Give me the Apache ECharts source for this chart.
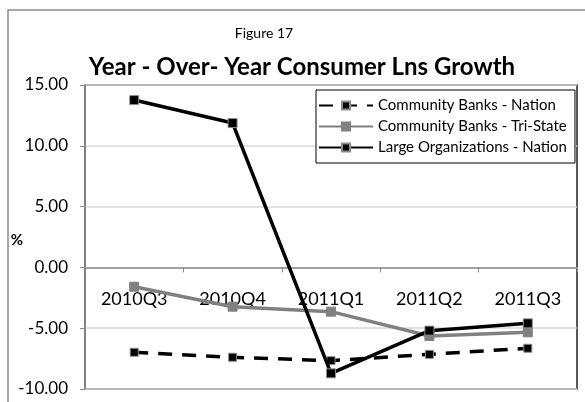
<!DOCTYPE html>
<html>
<head>
<meta charset="utf-8">
<script src="https://cdn.jsdelivr.net/npm/echarts@6/dist/echarts.min.js"></script>
<style>
  html, body { margin: 0; padding: 0; background: #fff; }
  #chart { width: 585px; height: 402px; }
</style>
</head>
<body>
<div id="chart"></div>
<script>
// Quarterly year-over-year growth in consumer loans (%)
const quarters = ['2010Q3', '2010Q4', '2011Q1', '2011Q2', '2011Q3'];
const communityNation = [-6.98, -7.39, -7.67, -7.15, -6.65];
const communityTriState = [-1.59, -3.23, -3.64, -5.64, -5.34];
const largeNation = [13.76, 11.87, -8.71, -5.20, -4.60];
const yTicks = { min: -10, max: 15, step: 5 };

const FONT = 'Lato, "Open Sans", sans-serif';
const W = 585, H = 402;
const GRID = { left: 85, top: 85, right: 8, bottom: 13 };

// The category axis crosses the value axis at zero: lift it from the
// bottom edge of the plot by the share of the range that lies below zero.
const plotHeight = H - GRID.top - GRID.bottom;
const zeroLift = plotHeight * (0 - yTicks.min) / (yTicks.max - yTicks.min);

const chart = echarts.init(document.getElementById('chart'), null, { renderer: 'canvas' });

chart.setOption({
  backgroundColor: '#fff',
  animation: false,
  textStyle: { fontFamily: FONT, color: '#000' },
  graphic: [
    {
      type: 'rect',
      shape: { x: 8, y: 10, width: 600, height: 420 },
      style: { fill: 'none', stroke: '#8c8c8c', lineWidth: 1.5 },
      z: -10
    },
    {
      type: 'text',
      x: 264, y: 33,
      style: { text: 'Figure 17', font: '14px ' + FONT, fill: '#000', align: 'center', verticalAlign: 'middle' }
    },
    {
      type: 'text',
      x: 302, y: 67,
      style: { text: 'Year - Over- Year Consumer Lns Growth', font: 'bold 24px ' + FONT, fill: '#000', align: 'center', verticalAlign: 'middle' }
    },
    {
      type: 'text',
      x: 17, y: 240,
      style: { text: '%', font: 'bold 15px ' + FONT, fill: '#000', align: 'center', verticalAlign: 'middle' }
    }
  ],
  legend: {
    orient: 'vertical',
    left: 316, top: 90,
    width: 255,
    backgroundColor: '#fff',
    borderColor: '#000',
    borderWidth: 1,
    borderRadius: 0,
    padding: [8, 8, 8, 2],
    itemGap: 6,
    itemWidth: 54,
    itemHeight: 10,
    textStyle: { fontFamily: FONT, fontSize: 15, color: '#000' },
    data: ['Community Banks - Nation', 'Community Banks - Tri-State', 'Large Organizations - Nation']
  },
  grid: {
    left: GRID.left, top: GRID.top, right: GRID.right, bottom: GRID.bottom,
    show: true,
    borderColor: '#222',
    borderWidth: 1.5,
    containLabel: false,
    outerBoundsMode: 'none'
  },
  xAxis: {
    type: 'category',
    data: quarters,
    boundaryGap: true,
    position: 'bottom',
    offset: -zeroLift,
    axisLine: { onZero: false, lineStyle: { color: '#8c8c8c', width: 1.5 } },
    axisTick: { show: true, inside: false, length: 5, lineStyle: { color: '#8c8c8c', width: 1 } },
    axisLabel: { fontFamily: FONT, fontSize: 18, color: '#000', margin: 23 },
    splitLine: { show: false }
  },
  yAxis: {
    type: 'value',
    min: yTicks.min, max: yTicks.max, interval: yTicks.step,
    axisLine: { show: true, lineStyle: { color: '#8c8c8c', width: 1.5 } },
    axisTick: { show: true, length: 5, lineStyle: { color: '#8c8c8c' } },
    axisLabel: {
      fontFamily: FONT, fontSize: 17, color: '#000', margin: 17,
      formatter: v => v.toFixed(2)
    },
    splitLine: { show: true, lineStyle: { color: '#d9d9d9', width: 1.5 } }
  },
  series: [
    {
      name: 'Community Banks - Nation',
      type: 'line',
      data: communityNation,
      symbol: 'rect', symbolSize: 8,
      itemStyle: { color: '#000', borderColor: '#8c8c8c', borderWidth: 1 },
      lineStyle: { color: '#000', width: 3.5, type: [14, 10] },
      z: 2
    },
    {
      name: 'Community Banks - Tri-State',
      type: 'line',
      data: communityTriState,
      symbol: 'rect', symbolSize: 9,
      itemStyle: { color: '#808080', borderColor: '#808080', borderWidth: 1 },
      lineStyle: { color: '#808080', width: 3.5 },
      z: 3
    },
    {
      name: 'Large Organizations - Nation',
      type: 'line',
      data: largeNation,
      symbol: 'rect', symbolSize: 9,
      itemStyle: { color: '#000', borderColor: '#8c8c8c', borderWidth: 1 },
      lineStyle: { color: '#000', width: 3.5 },
      z: 4
    }
  ]
});
</script>
</body>
</html>
